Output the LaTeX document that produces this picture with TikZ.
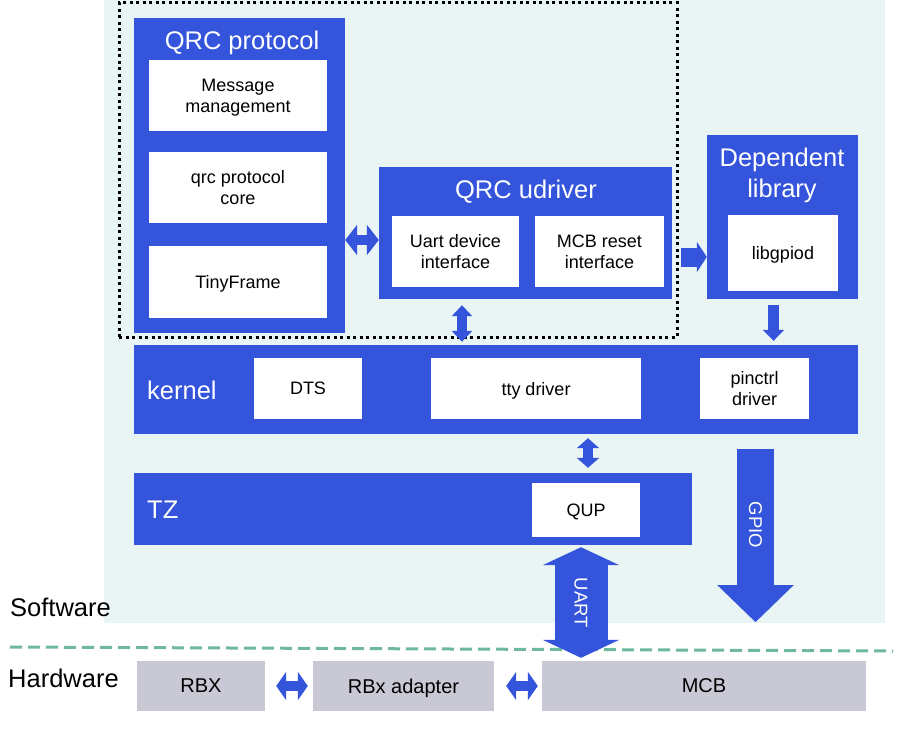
\documentclass[tikz,border=0pt]{standalone}
\usepackage{fontspec}
\setmainfont{Liberation Sans}
\usetikzlibrary{positioning, arrows.meta}
\definecolor{qblue}{RGB}{51,84,219}
\definecolor{panelbg}{RGB}{233,245,245}
\definecolor{hwgray}{RGB}{200,201,212}
\definecolor{sepgreen}{RGB}{110,185,155}
\tikzstyle{bluebox} = [rectangle, fill=qblue, inner sep=0pt]
\tikzstyle{whitebox} = [rectangle, fill=white, inner sep=0pt, text depth=0pt, align=center, font=\fontsize{18}{21}\selectfont]
\tikzstyle{hwbox} = [rectangle, fill=hwgray, inner sep=0pt, text depth=0pt, minimum height=50pt, font=\fontsize{20}{24}\selectfont]
\tikzstyle{title} = [text=white, inner sep=0pt, text depth=0pt, align=center, font=\fontsize{25.5}{31}\selectfont]
\tikzstyle{side} = [inner sep=0pt, anchor=west, font=\fontsize{25.5}{30}\selectfont]
\tikzstyle{fatarrow} = [draw=qblue, line width=10pt]

\begin{document}
\begin{tikzpicture}[x=1pt, y=-1pt]
	\useasboundingbox (0,0) rectangle (915,730);

	% Software panel
	\node (panel) [rectangle, fill=panelbg, minimum width=781pt, minimum height=623pt] at (494.5,311.5) {};

	% Draw the nodes
	\node (proto) [bluebox, minimum width=211pt, minimum height=315pt] at (239.5,175.5) {};
	\node (prototitle) [title] at (242,40) {QRC protocol};
	\node (msg) [whitebox, minimum width=178pt, minimum height=71pt] at (238,95.5) {Message\\ management};
	\node (core) [whitebox, minimum width=178pt, minimum height=71pt] at (238,187.5) {qrc protocol\\ core};
	\node (tiny) [whitebox, minimum width=178pt, minimum height=72pt] at (238,282) {TinyFrame};

	\node (udriver) [bluebox, minimum width=293pt, minimum height=132pt] at (525.5,233) {};
	\node (udrivertitle) [title] at (526,189) {QRC udriver};
	\node (uartif) [whitebox, minimum width=127pt, minimum height=71pt] at (455.5,251.5) {Uart device\\ interface};
	\node (mcbif) [whitebox, minimum width=129pt, minimum height=71pt] at (599.5,251.5) {MCB reset\\ interface};

	\node (dotted) [rectangle, draw=black, line width=3pt, dash pattern=on 3pt off 3.5pt, minimum width=558pt, minimum height=334pt] at (398,170) {};

	\node (deplib) [bluebox, minimum width=151pt, minimum height=164pt] at (782.5,217) {};
	\node (deplibtitle) [title] at (782,172.5) {Dependent\\ library};
	\node (libgpiod) [whitebox, minimum width=110pt, minimum height=76pt] at (783,253) {libgpiod};

	\node (kernel) [bluebox, minimum width=724pt, minimum height=89pt] at (496,389.5) {};
	\node (kerneltitle) [title, anchor=west] at (147,390) {kernel};
	\node (dts) [whitebox, minimum width=108pt, minimum height=61pt] at (308,388.5) {DTS};
	\node (tty) [whitebox, minimum width=210pt, minimum height=61pt] at (536,388.5) {tty driver};
	\node (pinctrl) [whitebox, minimum width=109pt, minimum height=61pt] at (754.5,388.5) {pinctrl\\ driver};

	\node (tz) [bluebox, minimum width=558pt, minimum height=72pt] at (413,509) {};
	\node (tztitle) [title, anchor=west] at (147,510) {TZ};
	\node (qup) [whitebox, minimum width=108pt, minimum height=54pt] at (586,510) {QUP};

	\node (rbx) [hwbox, minimum width=128pt] at (201,686) {RBX};
	\node (adapter) [hwbox, minimum width=181pt] at (403.5,686) {RBx adapter};
	\node (mcb) [hwbox, minimum width=324pt] at (704,686) {MCB};

	\node (software) [side] at (10,607) {Software};
	\node (hardware) [side] at (8,678) {Hardware};

	% Separator
	\coordinate (sepleft) at (10,647);
	\coordinate (sepright) at (893,651);
	\draw [sepgreen, line width=3pt, dash pattern=on 12pt off 6pt] (sepleft) -- (sepright);

	%Draw the arrows
	\coordinate (a1) at (0,240);
	\coordinate (a2) at (0,257);
	\coordinate (a3) at (462,0);
	\coordinate (a4) at (773.5,0);
	\coordinate (a5) at (588,0);
	\coordinate (a6) at (581,0);
	\coordinate (a7) at (755.5,0);
	\draw [fatarrow, {Triangle[length=12pt,width=30pt]}-{Triangle[length=12pt,width=30pt]}] (proto.east |- a1) -- (udriver.west |- a1);
	\draw [fatarrow, line width=19pt, -{Triangle[length=10pt,width=30pt]}, shorten <=2pt] (dotted.east |- a2) -- (deplib.west |- a2);
	\draw [fatarrow, {Triangle[length=11pt,width=20pt]}-{Triangle[length=11pt,width=20pt]}, shorten <=6pt, shorten >=3pt] (udriver.south -| a3) -- (kernel.north -| a3);
	\draw [fatarrow, line width=11pt, -{Triangle[length=11pt,width=21pt]}, shorten <=6pt, shorten >=4pt] (deplib.south -| a4) -- (kernel.north -| a4);
	\draw [fatarrow, {Triangle[length=10pt,width=22pt]}-{Triangle[length=10pt,width=22pt]}, shorten <=4pt, shorten >=5pt] (kernel.south -| a5) -- (tz.north -| a5);
	\draw [fatarrow, line width=53pt, {Triangle[length=18pt,width=76pt]}-{Triangle[length=18pt,width=76pt]}, shorten <=2pt, shorten >=3pt] (tz.south -| a6) -- node [title, rotate=-90, font=\fontsize{18.5}{22}\selectfont] {UART} (mcb.north -| a6);
	\draw [fatarrow, line width=37pt, -{Triangle[length=37pt,width=74pt]}, shorten <=15pt, shorten >=1pt] (kernel.south -| a7) -- (panel.south -| a7);
	\node (gpio) [title, rotate=-90, font=\fontsize{18.5}{22}\selectfont] at (755.5,525) {GPIO};
	\draw [fatarrow, {Triangle[length=10pt,width=28pt]}-{Triangle[length=10pt,width=28pt]}, shorten <=11pt, shorten >=5pt] (rbx.east) -- (adapter.west);
	\draw [fatarrow, {Triangle[length=10pt,width=28pt]}-{Triangle[length=10pt,width=28pt]}, shorten <=12pt, shorten >=4pt] (adapter.east) -- (mcb.west);

\end{tikzpicture}
\end{document}
